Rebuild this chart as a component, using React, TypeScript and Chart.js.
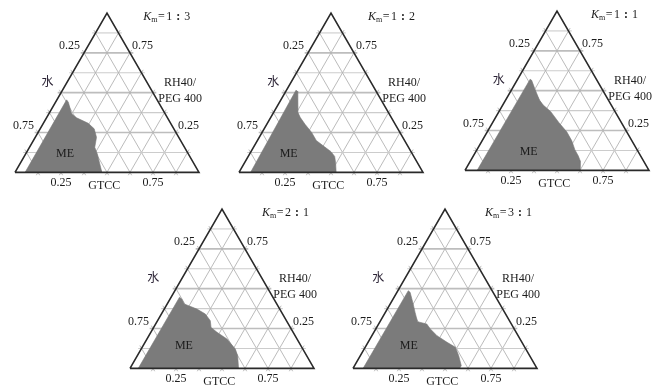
import React, { useEffect, useRef } from 'react';
import { Chart, registerables } from 'chart.js';

Chart.register(...registerables);

const SQ = Math.sqrt(3) / 2;

// ---- data ----
const gridFractions = [0.125, 0.25, 0.375, 0.5, 0.625, 0.75, 0.875];
const tickValues = [0.25, 0.75];
const tickLabels = ['0.25', '0.75'];

const axisWater = '水';
const axisSurfLine1 = 'RH40/';
const axisSurfLine2 = 'PEG 400';
const axisOil = 'GTCC';
const regionLabel = 'ME';

// Km ratios (left : right)
const kmLeft = ['1', '1', '1', '2', '3'];
const kmRight = ['3', '2', '1', '1', '1'];

// ME region boundaries: RH40/PEG 400 (surfactant) fraction and GTCC (oil) fraction; water = rest
const me13Surf = [0, 0.455, 0.44, 0.367, 0.342, 0.308, 0.273, 0.22, 0.157, 0.115, 0.073, 0.01, 0];
const me13Oil = [0.055, 0.053, 0.07, 0.124, 0.164, 0.244, 0.294, 0.333, 0.355, 0.39, 0.42, 0.465, 0.47];

const me12Surf = [0, 0.515, 0.51, 0.46, 0.38, 0.345, 0.3, 0.25, 0.2, 0.16, 0.13, 0.1, 0.06, 0];
const me12Oil = [0.063, 0.052, 0.062, 0.088, 0.13, 0.16, 0.21, 0.27, 0.32, 0.385, 0.435, 0.47, 0.495, 0.528];

const me11Surf = [0, 0.572, 0.565, 0.51, 0.44, 0.41, 0.37, 0.3, 0.24, 0.185, 0.13, 0.09, 0.06, 0];
const me11Oil = [0.066, 0.068, 0.08, 0.125, 0.185, 0.22, 0.28, 0.36, 0.434, 0.488, 0.532, 0.571, 0.596, 0.625];

const me21Surf = [0, 0.446, 0.435, 0.404, 0.372, 0.341, 0.299, 0.257, 0.226, 0.184, 0.121, 0.08, 0];
const me21Oil = [0.045, 0.046, 0.064, 0.093, 0.178, 0.239, 0.287, 0.312, 0.36, 0.435, 0.512, 0.545, 0.59];

const me31Surf = [0, 0.487, 0.477, 0.414, 0.351, 0.293, 0.278, 0.247, 0.205, 0.163, 0.132, 0.079, 0.017, 0];
const me31Oil = [0.055, 0.057, 0.072, 0.118, 0.162, 0.204, 0.262, 0.297, 0.354, 0.43, 0.491, 0.535, 0.58, 0.58];

const meSurfs = [me13Surf, me12Surf, me11Surf, me21Surf, me31Surf];
const meOils = [me13Oil, me12Oil, me11Oil, me21Oil, me31Oil];

// ---- layout (pixels / label placement) ----
const TRI_W = 184;
const PAD_L = 15;
const PAD_T = 13;
const CANVAS_W = 226;
const CANVAS_H = 196;
const PANELS = [
  { bl: [15, 172], me: [0.272, 0.102], water: 0.177, km: 0.697 },
  { bl: [239, 172], me: [0.27, 0.102], water: 0.186, km: 0.701 },
  { bl: [465, 170.5], me: [0.346, 0.098], water: 0.183, km: 0.685 },
  { bl: [130, 368], me: [0.293, 0.125], water: 0.127, km: 0.717 },
  { bl: [353, 368], me: [0.303, 0.121], water: 0.137, km: 0.717 },
];

const FONT_FAMILY = '"Liberation Serif", "Noto Sans CJK SC", serif';
const TEXT_COLOR = '#1c1c1c';

const toXY = (oil: number, surf: number) => ({ x: oil + surf / 2, y: surf * SQ });

function segment(a: { x: number; y: number }, b: { x: number; y: number }, ext: number) {
  const dx = b.x - a.x;
  const dy = b.y - a.y;
  const len = Math.hypot(dx, dy);
  const ux = dx / len;
  const uy = dy / len;
  return [
    { x: a.x - ux * ext, y: a.y - uy * ext },
    { x: b.x + ux * ext, y: b.y + uy * ext },
  ];
}

function buildDatasets(idx: number) {
  const ds: any[] = [];
  const base = {
    showLine: true,
    pointRadius: 0,
    pointHoverRadius: 0,
    fill: false,
    clip: false,
    tension: 0,
  };
  const ext = 0.018;
  gridFractions.forEach((f) => {
    const major = Math.abs(f - 0.25) < 1e-6 || Math.abs(f - 0.5) < 1e-6 || Math.abs(f - 0.75) < 1e-6;
    // constant surfactant (horizontal)
    ds.push({
      ...base,
      order: 3,
      data: segment(toXY(0, f), toXY(1 - f, f), ext),
      borderColor: major ? '#bdbdbd' : '#cccccc',
      borderWidth: major ? 1.6 : 1.1,
    });
    // constant oil
    ds.push({
      ...base,
      order: 3,
      data: segment(toXY(f, 0), toXY(f, 1 - f), ext),
      borderColor: '#b3b3b3',
      borderWidth: 0.9,
    });
    // constant water
    ds.push({
      ...base,
      order: 3,
      data: segment(toXY(1 - f, 0), toXY(0, 1 - f), ext),
      borderColor: '#b3b3b3',
      borderWidth: 0.9,
    });
  });
  // ME region
  const surf = meSurfs[idx];
  const oil = meOils[idx];
  const region = surf.map((s, i) => toXY(oil[i], s));
  ds.push({
    ...base,
    order: 1,
    data: [...region, region[0]],
    borderColor: '#7b7b7b',
    borderWidth: 0.6,
    backgroundColor: '#7b7b7b',
    fill: 'shape',
  });
  // triangle frame
  const A = toXY(0, 0);
  const B = toXY(1, 0);
  const C = toXY(0, 1);
  ds.push({
    ...base,
    order: 0,
    data: [A, B, C, A],
    borderColor: '#2a2a2a',
    borderWidth: 1.6,
    borderJoinStyle: 'miter',
  });
  return ds;
}

function makeTextPlugin(idx: number) {
  const panel = PANELS[idx];
  return {
    id: 'ternaryText' + idx,
    afterDatasetsDraw(chart: any) {
      const { ctx } = chart;
      const X = (v: number) => chart.scales.x.getPixelForValue(v);
      const Y = (v: number) => chart.scales.y.getPixelForValue(v);
      const pt = (oil: number, surf: number) => {
        const c = toXY(oil, surf);
        return { x: X(c.x), y: Y(c.y) };
      };
      ctx.save();
      ctx.fillStyle = TEXT_COLOR;
      ctx.font = `12px ${FONT_FAMILY}`;
      ctx.textBaseline = 'middle';
      tickValues.forEach((v, i) => {
        let p = pt(0, 1 - v);
        ctx.textAlign = 'right';
        ctx.fillText(tickLabels[i], p.x - 4, p.y - 6.5);
        p = pt(1 - v, v);
        ctx.textAlign = 'left';
        ctx.fillText(tickLabels[i], p.x + 2, p.y - 6.5);
        p = pt(v, 0);
        ctx.textAlign = 'center';
        ctx.fillText(tickLabels[i], p.x, p.y + 10);
      });
      // axis titles
      ctx.textAlign = 'center';
      ctx.fillText(axisOil, X(0.485), Y(0) + 13.5);
      ctx.fillText(axisSurfLine1, X(0.897), Y(0.489));
      ctx.fillText(axisSurfLine2, X(0.897), Y(0.397));
      ctx.fillStyle = '#2c2436';
      ctx.fillText(axisWater, X(panel.water), Y(0.489));
      ctx.fillStyle = TEXT_COLOR;
      ctx.fillText(regionLabel, X(panel.me[0]), Y(panel.me[1]));
      // Km label
      let x = X(panel.km);
      const y = Y(0.845);
      ctx.textAlign = 'left';
      ctx.font = `italic 12px ${FONT_FAMILY}`;
      ctx.fillText('K', x, y);
      x += ctx.measureText('K').width;
      ctx.font = `8px ${FONT_FAMILY}`;
      ctx.fillText('m', x, y + 3);
      x += ctx.measureText('m').width + 0.5;
      ctx.font = `12px ${FONT_FAMILY}`;
      ctx.fillText('=', x, y);
      x += ctx.measureText('=').width + 1.5;
      ctx.fillText(kmLeft[idx], x, y);
      x += ctx.measureText(kmLeft[idx]).width;
      ctx.textAlign = 'center';
      ctx.font = `bold 12px ${FONT_FAMILY}`;
      ctx.fillText(':', x + 6, y);
      ctx.textAlign = 'left';
      ctx.font = `12px ${FONT_FAMILY}`;
      ctx.fillText(kmRight[idx], x + 12, y);
      ctx.restore();
    },
  };
}

function Panel({ idx }: { idx: number }) {
  const ref = useRef<HTMLCanvasElement | null>(null);
  useEffect(() => {
    if (!ref.current) return;
    const triH = TRI_W * SQ;
    const chart = new Chart(ref.current, {
      type: 'scatter',
      data: { datasets: buildDatasets(idx) },
      options: {
        animation: false,
        responsive: false,
        maintainAspectRatio: false,
        events: [],
        layout: {
          padding: {
            left: PAD_L,
            top: PAD_T,
            right: CANVAS_W - PAD_L - TRI_W,
            bottom: CANVAS_H - PAD_T - triH,
          },
        },
        scales: {
          x: { type: 'linear', min: 0, max: 1, display: false },
          y: { type: 'linear', min: 0, max: SQ, display: false },
        },
        plugins: {
          legend: { display: false },
          tooltip: { enabled: false },
          title: { display: false },
        },
      },
      plugins: [makeTextPlugin(idx)],
    } as any);
    return () => chart.destroy();
  }, [idx]);
  const p = PANELS[idx];
  const left = p.bl[0] - PAD_L;
  const top = p.bl[1] - PAD_T - TRI_W * SQ;
  return (
    <canvas
      ref={ref}
      width={CANVAS_W}
      height={CANVAS_H}
      style={{ position: 'absolute', left, top, width: CANVAS_W, height: CANVAS_H }}
    />
  );
}

export default function App() {
  return (
    <div
      style={{
        position: 'fixed',
        left: 0,
        top: 0,
        width: 662,
        height: 387,
        overflow: 'hidden',
        background: '#ffffff',
      }}
    >
      {PANELS.map((_, i) => (
        <Panel key={i} idx={i} />
      ))}
    </div>
  );
}
